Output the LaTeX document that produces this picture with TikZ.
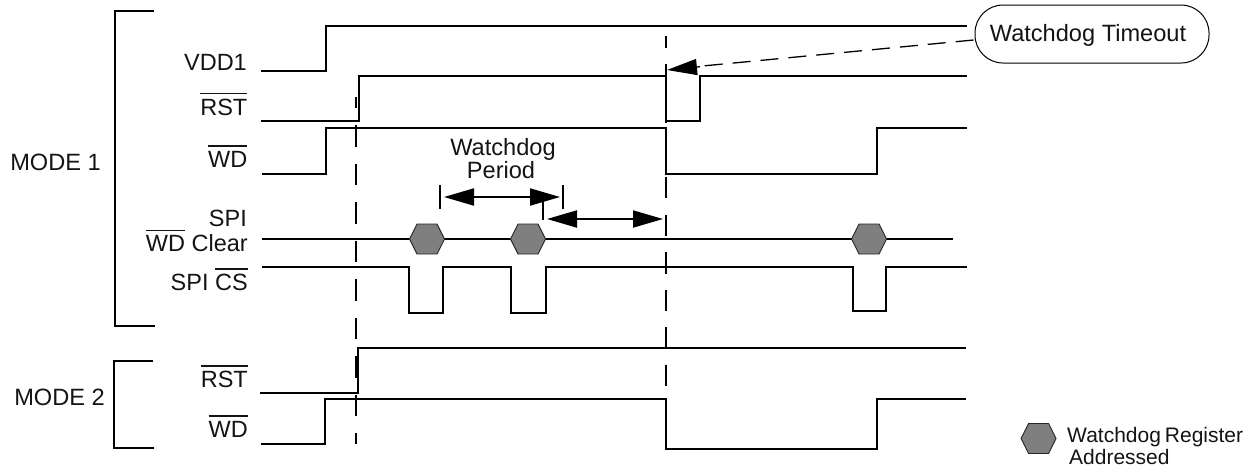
\documentclass[tikz,border=0pt]{standalone}
\usepackage{fontspec}
\setmainfont{Liberation Sans}
\usetikzlibrary{arrows.meta}
\newcommand\ovl[1]{\leavevmode\vbox{\hrule height 1.6pt \kern 4.3pt \hbox{#1}}}
\definecolor{hexgray}{HTML}{7F7F7F}
\tikzset{
  signal/.style={line width=2pt, line join=miter, black},
  bracketline/.style={line width=2pt, black},
  guide/.style={line width=2pt, black},
  lbl/.style={inner sep=0pt, anchor=base east, font=\fontsize{23.5}{23.5}\selectfont, text=black!92},
  midlbl/.style={inner sep=0pt, anchor=base, font=\fontsize{23.6}{23.6}\selectfont, text=black!92},
  leglbl/.style={inner sep=0pt, anchor=base west, font=\fontsize{21}{21}\selectfont, text=black!92},
  dimarrow/.style={line width=2pt, {Triangle[length=30pt,width=17pt]}-{Triangle[length=30pt,width=17pt]}},
  tick/.style={line width=2pt},
}
\newcommand\hexa[2]{% centre x, centre y: 35 wide, 30 tall
  \fill[hexgray,draw=black!85,line width=0.9pt] (#1-17.5,#2) -- (#1-10,#2-15) -- (#1+10,#2-15) -- (#1+17.5,#2) -- (#1+10,#2+15) -- (#1-10,#2+15) -- cycle;}
\begin{document}
\begin{tikzpicture}[x=1pt,y=-1pt]
\useasboundingbox (0,0) rectangle (1253,467);
\fill[white] (0,0) rectangle (1253,467);

% mode brackets
\draw[bracketline] (154,11) -- (115,11) -- (115,326) -- (155,326);
\draw[bracketline] (153,361) -- (114,361) -- (114,448) -- (154,448);

% dashed guides
\draw[guide, dash pattern=on 21.5pt off 17pt, dash phase=10.5pt] (356,97) -- (356,444);
\draw[guide, dash pattern=on 21.5pt off 16.1pt, dash phase=9.5pt] (666,36) -- (666,450);

% MODE 1 signals
\draw[signal] (261,71) -- (326,71) -- (326,26) -- (967,26);
\draw[signal] (261,121) -- (359,121) -- (359,76) -- (666,76) -- (666,121) -- (700,121) -- (700,76) -- (967,76);
\draw[signal] (262,174) -- (326,174) -- (326,128) -- (666,128) -- (666,174) -- (877,174) -- (877,128) -- (967,128);
\draw[signal] (262,239) -- (953,239);
\draw[signal] (262,267) -- (409,267) -- (409,313) -- (443,313) -- (443,267) -- (511,267) -- (511,313) -- (546,313) -- (546,267) -- (853,267) -- (853,311) -- (886,311) -- (886,267) -- (967,267);

% MODE 2 signals
\draw[signal] (260,393) -- (358,393) -- (358,348) -- (966,348);
\draw[signal] (261,444) -- (325,444) -- (325,399) -- (666,399) -- (666,449) -- (877,449) -- (877,399) -- (966,399);

% hexagons
\hexa{427}{239}
\hexa{528}{239}
\hexa{869}{239}
\hexa{1038.5}{438.5}

% labels
\node[lbl] (vdd) at (247,70) {VDD1};
\node[lbl] (rsta) at (247.5,115) {\ovl{RST}};
\node[lbl] (wda) at (247.5,167) {\ovl{WD}};
\node[lbl] (spia) at (247,226) {SPI};
\node[lbl] (wdclr) at (248,251.7) {\ovl{WD} Clear};
\node[lbl] (spics) at (248,290.7) {SPI \ovl{CS}};
\node[lbl] (rstb) at (248,387.7) {\ovl{RST}};
\node[lbl] (wdb) at (248,437) {\ovl{WD}};
\node[lbl,font=\fontsize{23.6}{23.6}\selectfont] (modea) at (101,170) {MODE 1};
\node[lbl,font=\fontsize{23.6}{23.6}\selectfont] (modeb) at (105,405) {MODE 2};
\node[midlbl] (wdg) at (503,155) {Watchdog};
\node[midlbl] (per) at (501,178) {Period};

% watchdog period dimensions
\coordinate (pa) at (440,197);
\coordinate (pb) at (563,197);
\coordinate (qa) at (543,219);
\coordinate (qb) at (666,219);
\draw[tick] (440,185) -- (440,209);
\draw[tick] (563,185) -- (563,209);
\draw[tick] (543,197) -- (543,220);
\draw[dimarrow] ([xshift=4pt]pa) -- ([xshift=-3pt]pb);
\draw[dimarrow] ([xshift=4pt]qa) -- ([xshift=-3pt]qb);

% callout
\node[draw=black, line width=1pt, rounded corners=28pt, minimum width=234pt, minimum height=58pt, inner sep=0pt, fill=white] (callout) at (1092,34) {};
\node[midlbl] (cotext) at (1088,41) {Watchdog Timeout};
\coordinate (cofoot) at (973.5,40);
\coordinate (cotip) at (667,70);
\draw[line width=1.3pt, dash pattern=on 18pt off 10pt] (cofoot) -- (692,67);
\draw[line width=1.3pt, -{Triangle[length=30pt,width=16pt]}] (700,66.7) -- (cotip);

% legend
\node[leglbl] (lega) at (1067,442.7) {Watchdog\kern4pt Register};
\node[leglbl] (legb) at (1069,464) {Addressed};
\end{tikzpicture}
\end{document}
